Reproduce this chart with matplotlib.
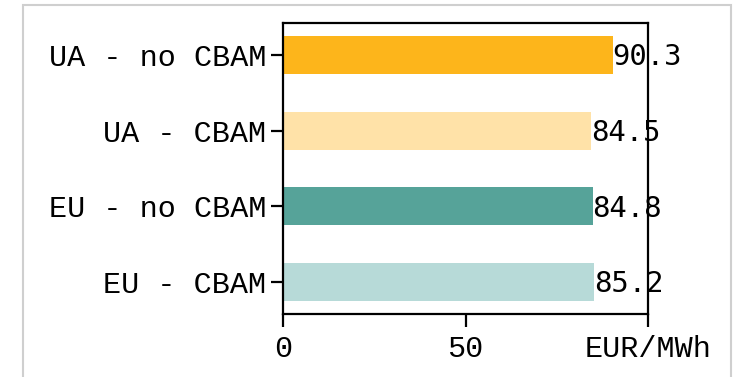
import matplotlib
matplotlib.use("Agg")
import matplotlib.pyplot as plt
from matplotlib.patches import Rectangle

categories = ["UA - no CBAM", "UA - CBAM", "EU - no CBAM", "EU - CBAM"]
values = [90.3, 84.5, 84.8, 85.2]
colors = ["#FDB51B", "#FFE2A8", "#56A399", "#B7DAD8"]
xtick_values = [0, 50, 100]
xtick_labels = ["0", "50", "EUR/MWh"]

plt.rcParams["font.family"] = ["Liberation Mono", "DejaVu Sans Mono"]

fig = plt.figure(figsize=(7.38, 3.77), dpi=100)
# light grey frame around the panel
fig.patches.append(Rectangle((23 / 738, -0.1), (731 - 23) / 738, 1.1 - 5 / 377,
                             transform=fig.transFigure, fill=False,
                             edgecolor="#cfcfcf", linewidth=1.5))

ax = fig.add_axes([283 / 738, 1 - 314 / 377, (648 - 283) / 738, (314 - 23) / 377])
ypos = list(range(len(categories)))
ax.barh(ypos, values, height=0.5, color=colors)
ax.set_yticks(ypos)
ax.set_yticklabels(categories, fontsize=21.7)
ax.invert_yaxis()
ax.set_xlim(0, 100)
ax.set_xticks(xtick_values)
ax.set_xticklabels(xtick_labels, fontsize=21.7)
ax.tick_params(length=9, width=1.6)
ax.tick_params(axis="x", pad=6)
ax.tick_params(axis="y", pad=3)
for s in ax.spines.values():
    s.set_linewidth(1.6)

for y, v in zip(ypos, values):
    ax.text(v, y + 0.03, f"{v:.1f}", va="center", ha="left", fontsize=20.8,
            family="DejaVu Sans Mono", clip_on=False)

fig.savefig("out.png", dpi=100)
